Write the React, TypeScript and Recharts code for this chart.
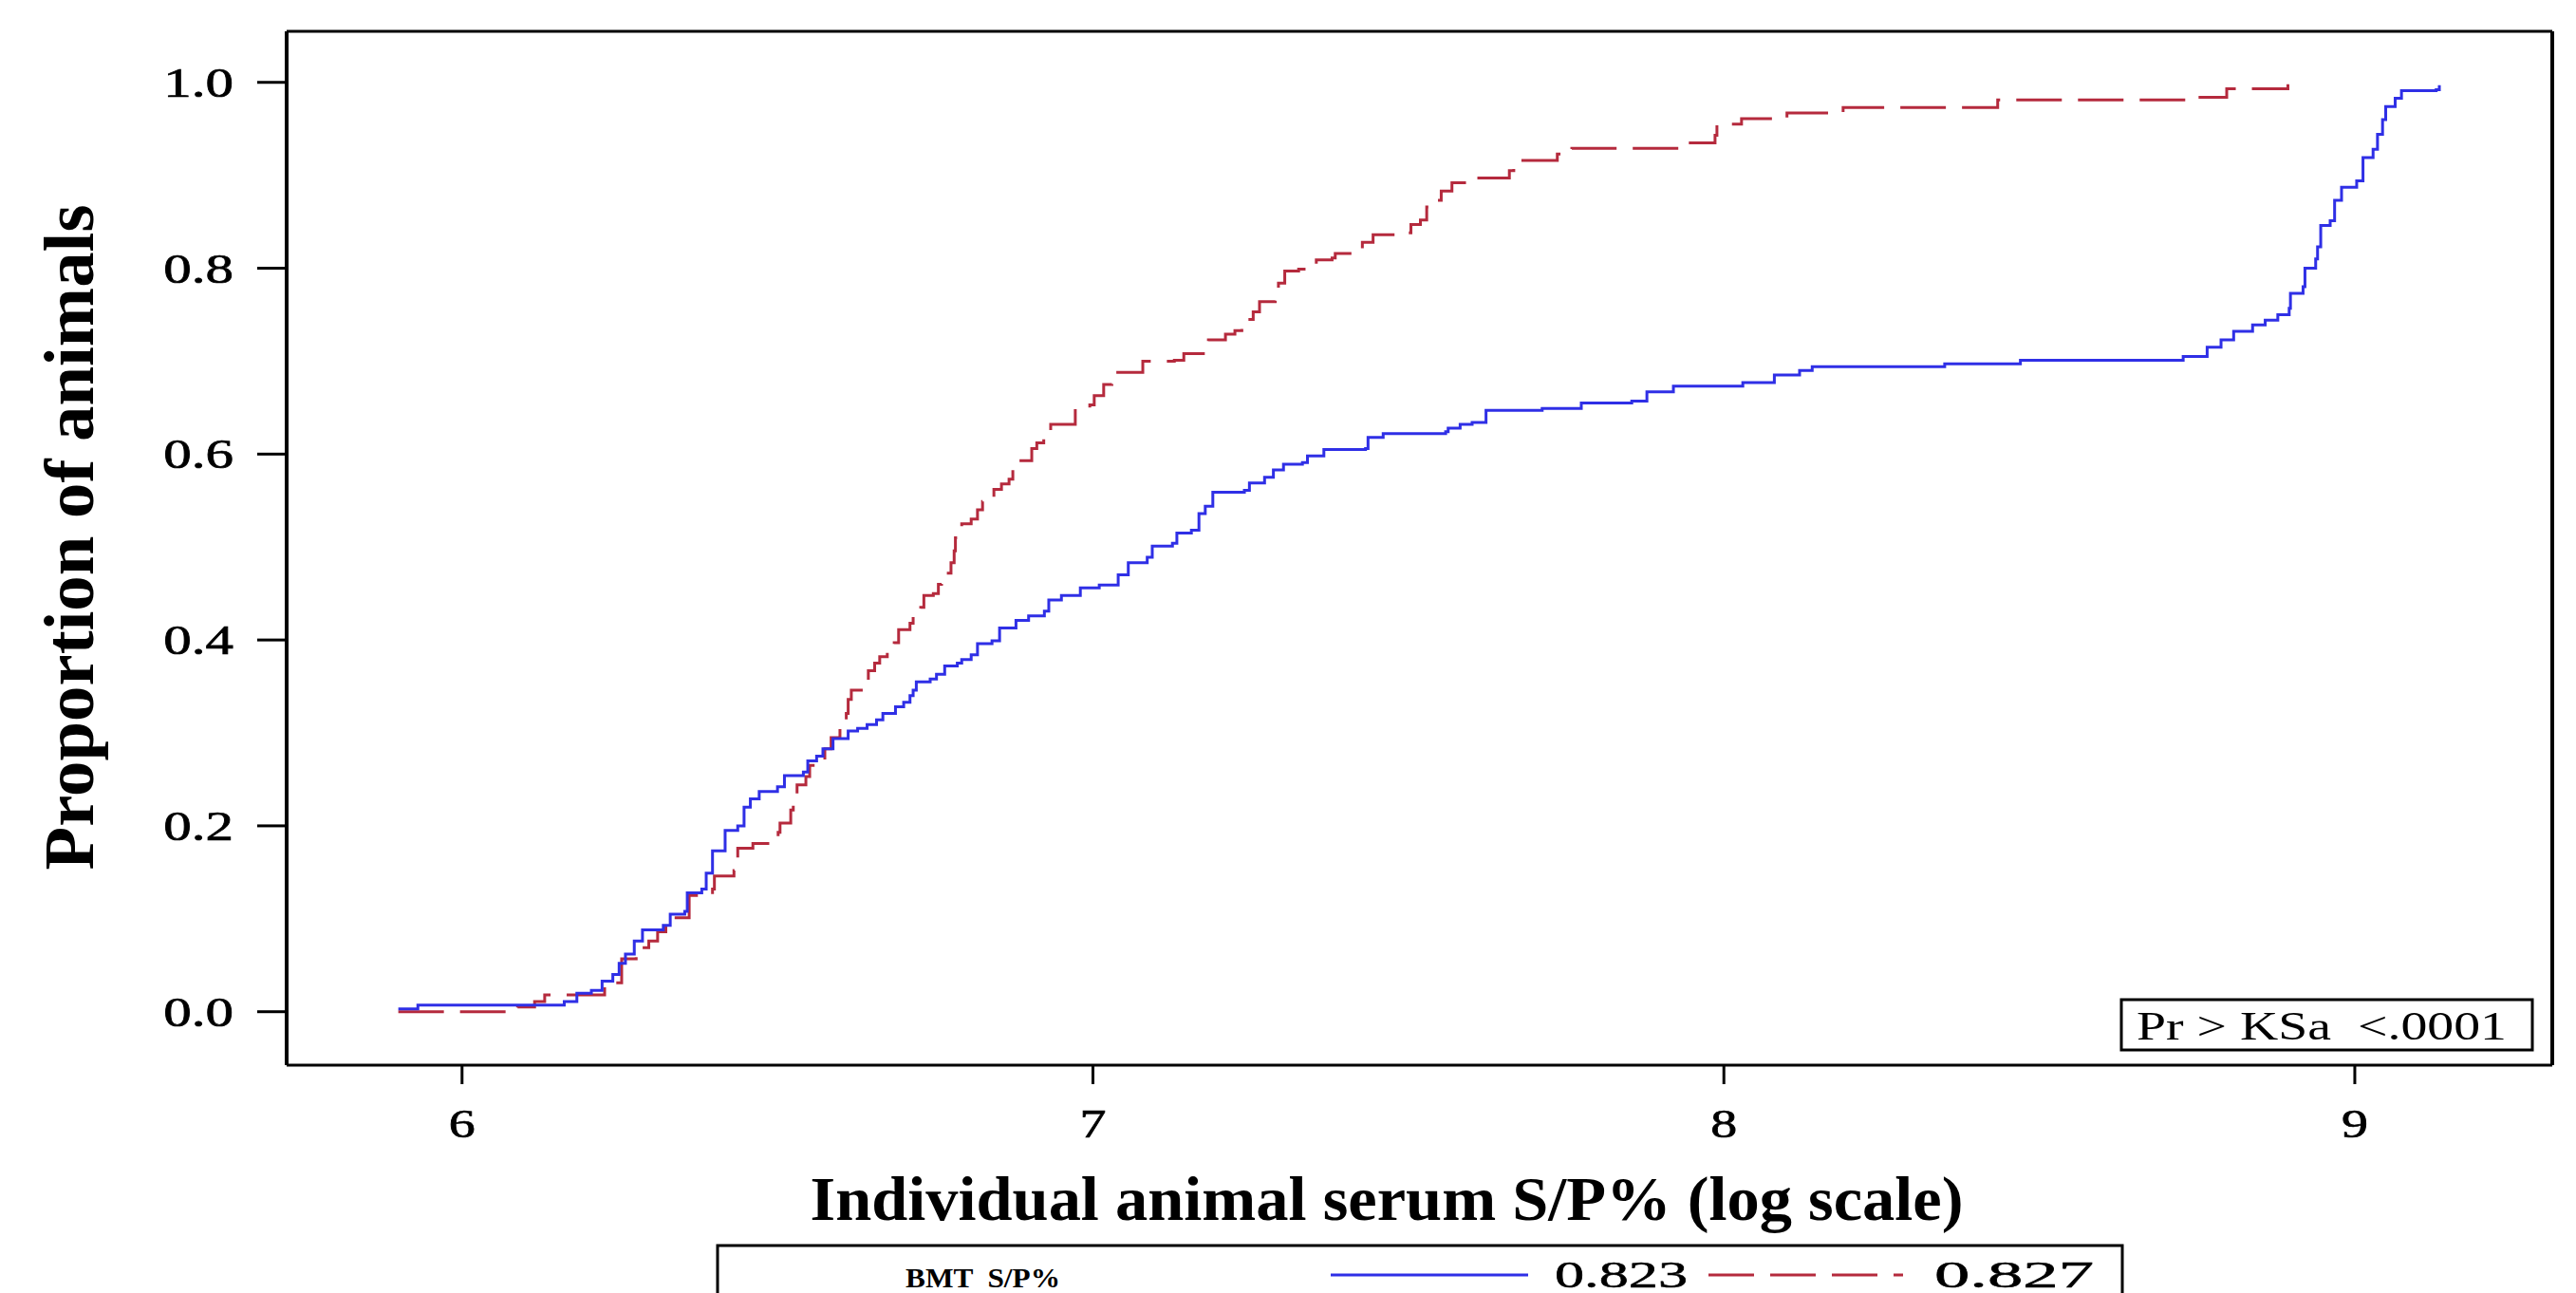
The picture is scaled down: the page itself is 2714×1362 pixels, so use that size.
import React from "react";
import { LineChart, Line, XAxis, YAxis, ReferenceLine, Label } from "recharts";

// ECDF of individual serum S/P% (log scale), two BMT S/P% groups
const blueX = [
  5.899, 5.93, 6.162, 6.182, 6.205, 6.222, 6.239, 6.249, 6.259, 6.273, 6.286, 6.319, 6.33, 6.353,
  6.357, 6.38, 6.387, 6.397, 6.417, 6.437, 6.447, 6.457, 6.471, 6.5, 6.511, 6.541, 6.548, 6.562,
  6.572, 6.588, 6.612, 6.627, 6.642, 6.657, 6.667, 6.687, 6.7, 6.71, 6.715, 6.72, 6.742, 6.752,
  6.765, 6.785, 6.792, 6.807, 6.817, 6.84, 6.852, 6.878, 6.898, 6.923, 6.93, 6.95, 6.98, 7.01,
  7.04, 7.056, 7.086, 7.094, 7.126, 7.133, 7.156, 7.168, 7.178, 7.19, 7.24, 7.248, 7.272, 7.286,
  7.302, 7.332, 7.34, 7.366, 7.432, 7.436, 7.46, 7.559, 7.563, 7.582, 7.601, 7.623, 7.712, 7.774,
  7.854, 7.878, 7.92, 8.03, 8.08, 8.12, 8.14, 8.35, 8.47, 8.728, 8.766, 8.788, 8.808, 8.838,
  8.858, 8.878, 8.896, 8.898, 8.918, 8.921, 8.938, 8.941, 8.946, 8.961, 8.968, 8.979, 9.003,
  9.013, 9.029, 9.036, 9.044, 9.049, 9.064, 9.074, 9.129, 9.134,
];
const blueY = [
  0.003, 0.007, 0.011, 0.02, 0.023, 0.033, 0.04, 0.052, 0.062, 0.076, 0.088, 0.093, 0.105, 0.108,
  0.128, 0.132, 0.149, 0.173, 0.195, 0.2, 0.22, 0.229, 0.237, 0.242, 0.254, 0.258, 0.27, 0.275,
  0.283, 0.294, 0.302, 0.305, 0.309, 0.314, 0.321, 0.328, 0.333, 0.34, 0.346, 0.355, 0.358, 0.363,
  0.372, 0.375, 0.379, 0.384, 0.396, 0.399, 0.413, 0.421, 0.426, 0.431, 0.443, 0.448, 0.456, 0.459,
  0.47, 0.483, 0.489, 0.501, 0.504, 0.515, 0.518, 0.536, 0.544, 0.559, 0.561, 0.569, 0.575, 0.583,
  0.589, 0.591, 0.598, 0.605, 0.606, 0.618, 0.622, 0.624, 0.628, 0.632, 0.634, 0.647, 0.649, 0.655,
  0.657, 0.667, 0.673, 0.677, 0.685, 0.69, 0.694, 0.697, 0.701, 0.705, 0.715, 0.723, 0.732, 0.739,
  0.744, 0.75, 0.757, 0.773, 0.78, 0.8, 0.81, 0.823, 0.846, 0.851, 0.873, 0.887, 0.894,
  0.919, 0.928, 0.944, 0.96, 0.974, 0.983, 0.991, 0.992, 0.997,
];

const redX = [
  5.899, 6.088, 6.115, 6.131, 6.226, 6.253, 6.276, 6.296, 6.31, 6.323, 6.335, 6.36, 6.397, 6.4,
  6.431, 6.434, 6.437, 6.461, 6.491, 6.501, 6.504, 6.521, 6.525, 6.531, 6.545, 6.551, 6.568, 6.575,
  6.585, 6.599, 6.609, 6.612, 6.617, 6.637, 6.644, 6.654, 6.662, 6.674, 6.685, 6.692, 6.71, 6.715,
  6.727, 6.732, 6.747, 6.755, 6.76, 6.775, 6.78, 6.782, 6.787, 6.792, 6.807, 6.817, 6.825, 6.84,
  6.843, 6.855, 6.867, 6.873, 6.88, 6.903, 6.911, 6.922, 6.933, 6.972, 6.995, 7.002, 7.017, 7.03,
  7.037, 7.079, 7.129, 7.144, 7.175, 7.183, 7.21, 7.225, 7.236, 7.254, 7.264, 7.289, 7.294, 7.304,
  7.326, 7.349, 7.354, 7.379, 7.384, 7.412, 7.427, 7.444, 7.499, 7.504, 7.519, 7.529, 7.544, 7.552,
  7.569, 7.589, 7.66, 7.667, 7.736, 7.759, 7.928, 7.986, 7.989, 8.028, 8.1, 8.189, 8.434, 8.75,
  8.797, 8.894,
];
const redY = [
  0.0, 0.005, 0.011, 0.018, 0.031, 0.057, 0.069, 0.076, 0.086, 0.095, 0.101, 0.125, 0.132, 0.146,
  0.152, 0.164, 0.176, 0.181, 0.185, 0.193, 0.203, 0.217, 0.233, 0.244, 0.253, 0.265, 0.271, 0.283,
  0.295, 0.305, 0.321, 0.336, 0.346, 0.355, 0.367, 0.375, 0.382, 0.387, 0.397, 0.411, 0.418, 0.431,
  0.435, 0.448, 0.45, 0.46, 0.472, 0.483, 0.496, 0.51, 0.517, 0.525, 0.53, 0.54, 0.549, 0.551,
  0.562, 0.568, 0.573, 0.583, 0.593, 0.606, 0.612, 0.624, 0.632, 0.65, 0.653, 0.663, 0.675, 0.682,
  0.688, 0.7, 0.701, 0.708, 0.72, 0.723, 0.729, 0.733, 0.745, 0.753, 0.764, 0.769, 0.784, 0.797,
  0.799, 0.804, 0.809, 0.811, 0.816, 0.821, 0.828, 0.836, 0.838, 0.847, 0.852, 0.866, 0.873, 0.883,
  0.892, 0.897, 0.905, 0.916, 0.923, 0.929, 0.935, 0.943, 0.955, 0.961, 0.967, 0.973, 0.981, 0.984,
  0.993, 0.998,
];

const xTicks = [6, 7, 8, 9];
const yTicks = [0, 0.2, 0.4, 0.6, 0.8, 1.0];
const legendTitle = "BMT  S/P%";
const legendValues = ["0.823", "0.827"];
const ksText = "Pr > KSa  <.0001";

const X_DOMAIN: [number, number] = [5.722, 9.313];
const Y_DOMAIN: [number, number] = [-0.0575, 1.0549];

const BLUE = "#2f2fe6";
const RED = "#b52a3d";
const SERIF = "'Liberation Serif', 'Times New Roman', serif";

const toPoints = (xs: number[], ys: number[]) => xs.map((x, i) => ({ x, y: ys[i] }));
const bluePoints = toPoints(blueX, blueY);
const redPoints = toPoints(redX, redY);

function YTick({ x, y, payload }: any) {
  return (
    <text
      transform={`translate(${x},${y}) scale(1.34,1)`}
      textAnchor="end"
      dy={15}
      fontFamily={SERIF}
      fontSize={44}
      fill="#000"
      stroke="#000"
      strokeWidth={0.7}
    >
      {Number(payload.value).toFixed(1)}
    </text>
  );
}

function XTick({ x, y, payload }: any) {
  return (
    <text
      transform={`translate(${x},${y}) scale(1.3,1)`}
      textAnchor="middle"
      dy={29}
      fontFamily={SERIF}
      fontSize={43}
      fill="#000"
      stroke="#000"
      strokeWidth={0.7}
    >
      {payload.value}
    </text>
  );
}

export default function App() {
  return (
    <div
      style={{
        position: "absolute",
        left: 0,
        top: 0,
        width: 2714,
        height: 1362,
        background: "#fff",
        overflow: "hidden",
      }}
    >
      <LineChart width={2714} height={1362} margin={{ top: 33, right: 25, left: 0, bottom: 0 }}>
        <XAxis
          dataKey="x"
          type="number"
          domain={X_DOMAIN}
          allowDataOverflow
          ticks={xTicks}
          height={240}
          tickSize={20}
          tickMargin={27}
          axisLine={{ stroke: "#000", strokeWidth: 3 }}
          tickLine={{ stroke: "#000", strokeWidth: 3 }}
          tick={<XTick />}
        >
          <Label
            content={() => (
              <text
                x={1461}
                y={1285}
                textAnchor="middle"
                fontFamily={SERIF}
                fontWeight="bold"
                fontSize={65}
                textLength={1215}
                lengthAdjust="spacingAndGlyphs"
                fill="#000"
              >
                Individual animal serum S/P% (log scale)
              </text>
            )}
          />
        </XAxis>
        <YAxis
          dataKey="y"
          type="number"
          domain={Y_DOMAIN}
          allowDataOverflow
          ticks={yTicks}
          width={302}
          tickSize={31}
          tickMargin={25}
          axisLine={{ stroke: "#000", strokeWidth: 4 }}
          tickLine={{ stroke: "#000", strokeWidth: 3 }}
          tick={<YTick />}
        >
          <Label
            content={() => (
              <text
                transform="translate(98,566) rotate(-90)"
                textAnchor="middle"
                fontFamily={SERIF}
                fontWeight="bold"
                fontSize={74}
                textLength={701}
                lengthAdjust="spacingAndGlyphs"
                fill="#000"
              >
                Proportion of animals
              </text>
            )}
          />
        </YAxis>
        <ReferenceLine y={Y_DOMAIN[1]} stroke="#000" strokeWidth={3} />
        <ReferenceLine x={X_DOMAIN[1]} stroke="#000" strokeWidth={4} />
        <Line
          data={redPoints}
          dataKey="y"
          type="stepAfter"
          stroke={RED}
          strokeWidth={3}
          strokeDasharray="48 17"
          dot={false}
          activeDot={false}
          isAnimationActive={false}
        />
        <Line
          data={bluePoints}
          dataKey="y"
          type="stepAfter"
          stroke={BLUE}
          strokeWidth={3}
          dot={false}
          activeDot={false}
          isAnimationActive={false}
        />
      </LineChart>

      {/* KS test box and the legend strip below the axis title */}
      <svg
        width={2714}
        height={1362}
        style={{ position: "absolute", left: 0, top: 0, pointerEvents: "none" }}
      >
        <rect x={2235} y={1053} width={433} height={53} fill="#fff" stroke="#000" strokeWidth={3} />
        <text
          x={2251}
          y={1095}
          fontFamily={SERIF}
          fontSize={42}
          textLength={390}
          lengthAdjust="spacingAndGlyphs"
          style={{ whiteSpace: "pre" }}
          fill="#000"
        >
          {ksText}
        </text>

        <rect x={756} y={1312} width={1480} height={90} fill="none" stroke="#000" strokeWidth={3} />
        <text
          x={954}
          y={1356}
          fontFamily={SERIF}
          fontWeight="bold"
          fontSize={30}
          textLength={163}
          lengthAdjust="spacingAndGlyphs"
          style={{ whiteSpace: "pre" }}
          fill="#000"
        >
          {legendTitle}
        </text>
        <line x1={1402} x2={1610} y1={1343} y2={1343} stroke={BLUE} strokeWidth={3} />
        <text
          x={1638}
          y={1356}
          fontFamily={SERIF}
          fontSize={40}
          textLength={140}
          lengthAdjust="spacingAndGlyphs"
          fill="#000"
          stroke="#000"
          strokeWidth={0.5}
        >
          {legendValues[0]}
        </text>
        <line
          x1={1800}
          x2={2005}
          y1={1343}
          y2={1343}
          stroke={RED}
          strokeWidth={3}
          strokeDasharray="48 17"
        />
        <text
          x={2038}
          y={1356}
          fontFamily={SERIF}
          fontSize={40}
          textLength={168}
          lengthAdjust="spacingAndGlyphs"
          fill="#000"
          stroke="#000"
          strokeWidth={0.5}
        >
          {legendValues[1]}
        </text>
      </svg>
    </div>
  );
}
